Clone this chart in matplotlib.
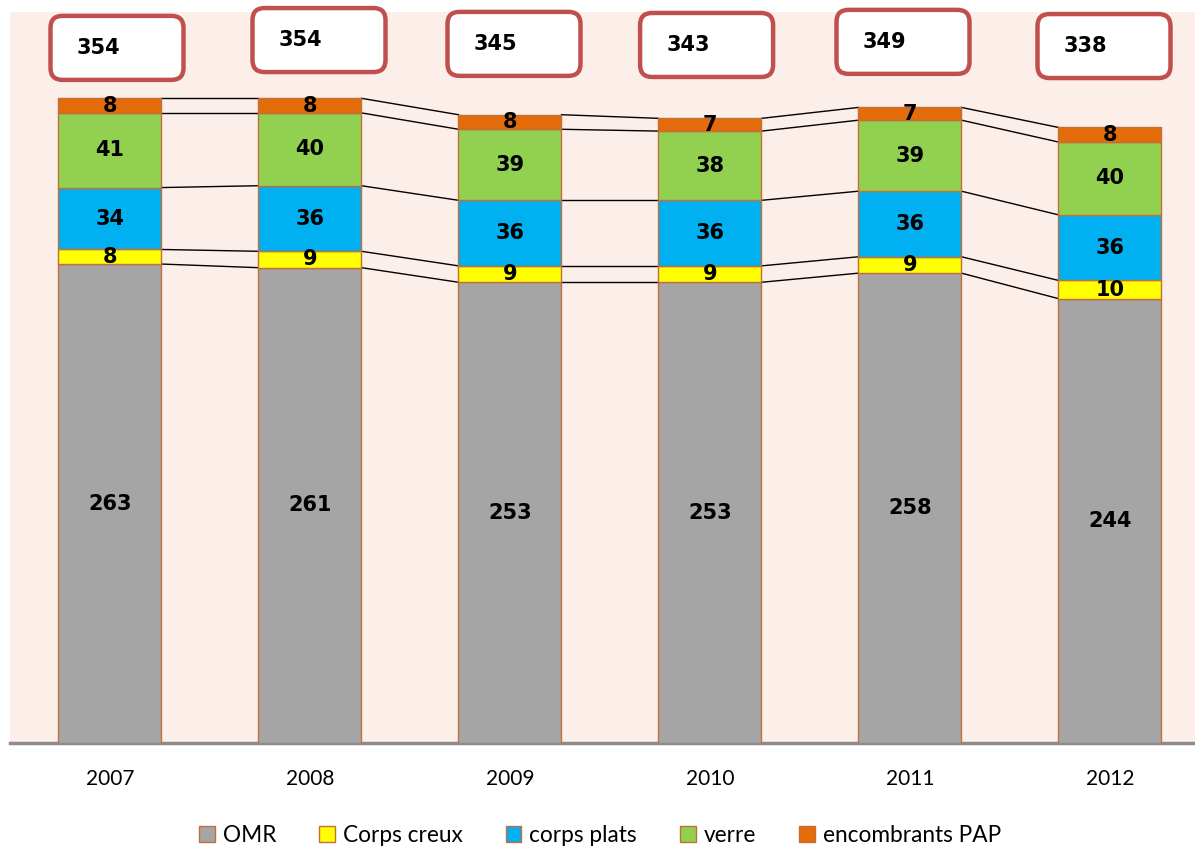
import matplotlib.pyplot as plt
import numpy as np
from matplotlib.patches import FancyBboxPatch, Patch

years = ['2007', '2008', '2009', '2010', '2011', '2012']
omr = [263, 261, 253, 253, 258, 244]
corps_creux = [8, 9, 9, 9, 9, 10]
corps_plats = [34, 36, 36, 36, 36, 36]
verre = [41, 40, 39, 38, 39, 40]
encombrants = [8, 8, 8, 7, 7, 8]
totals = [354, 354, 345, 343, 349, 338]

series = [('OMR', omr, '#A5A5A5'),
          ('Corps creux', corps_creux, '#FFFF00'),
          ('corps plats', corps_plats, '#00B0F0'),
          ('verre', verre, '#92D050'),
          ('encombrants PAP', encombrants, '#E46C0A')]

# box placement (style only)
box_dx = [0.035, 0.045, 0.02, -0.017, -0.035, -0.03]
box_y = [381.7, 386.0, 383.9, 383.3, 385.0, 382.7]

edge = '#C0703A'
bw = 0.515

fig = plt.figure(figsize=(11.95, 8.47), dpi=100)
ax = fig.add_axes([10 / 1195, 104 / 847, 1200 / 1195, 731 / 847])
ax.set_xlim(-0.5, 5.5)
ax.set_ylim(0, 401.4)
ax.set_facecolor('#FCEEE9')

x = np.arange(len(years))
bottom = np.zeros(len(years))
for name, vals, col in series:
    vals = np.array(vals, dtype=float)
    ax.bar(x, vals, bw, bottom=bottom, color=col, edgecolor=edge, linewidth=1, zorder=3)
    for xi, b, v in zip(x, bottom, vals):
        ax.text(xi, b + v / 2, str(int(v)), ha='center', va='center',
                fontsize=15, fontweight='bold', family='DejaVu Sans', zorder=4)
    bottom = bottom + vals
    # series lines between bars
    for i in range(len(years) - 1):
        ax.plot([x[i] + bw / 2, x[i + 1] - bw / 2], [bottom[i], bottom[i + 1]],
                color='black', lw=1, zorder=2)

# total boxes above the bars
px_x = 1 / 200.0
px_y = 401.4 / 731.0
bw_box = 133 * px_x
bh_box = 64 * px_y
for xi, t, dx, yc in zip(x, totals, box_dx, box_y):
    cx = xi + dx
    p = FancyBboxPatch((cx - bw_box / 2, yc - bh_box / 2), bw_box, bh_box,
                       boxstyle='round,pad=0,rounding_size=0.06',
                       mutation_aspect=px_y / px_x,
                       facecolor='white', edgecolor='#C0504D', linewidth=3.2,
                       zorder=5, clip_on=False)
    ax.add_patch(p)
    ax.text(cx - bw_box / 2 + 26 * px_x, yc, str(t), ha='left', va='center',
            fontsize=15, fontweight='bold', family='DejaVu Sans', zorder=6)

for s in ['top', 'right', 'left']:
    ax.spines[s].set_visible(False)
ax.spines['bottom'].set_color('#8C8C8C')
ax.spines['bottom'].set_linewidth(2.5)
ax.set_yticks([])
ax.set_xticks(x, years)
ax.tick_params(axis='x', length=0, pad=19, labelsize=15)
for lab in ax.get_xticklabels():
    lab.set_family('Lato')

handles = [Patch(facecolor=col, edgecolor=edge, label=name) for name, _, col in series]
leg = fig.legend(handles=handles, loc='center', bbox_to_anchor=(600 / 1195, 12 / 847),
                 ncol=5, frameon=False, handlelength=0.7, handleheight=0.7,
                 handletextpad=0.35, columnspacing=1.9,
                 prop={'family': 'Lato', 'size': 16.3})

fig.savefig('out.png', dpi=100)
